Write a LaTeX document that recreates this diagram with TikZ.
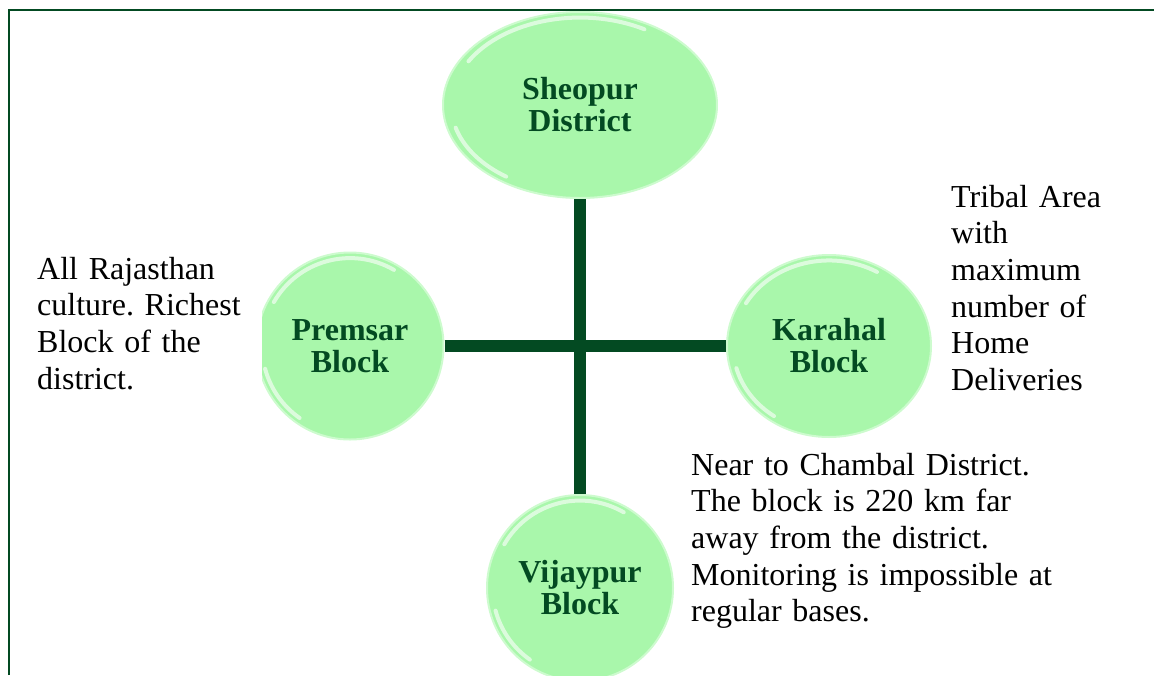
\documentclass[tikz,border=0pt]{standalone}
\usepackage{fontspec}
\setmainfont{Liberation Serif}
\usetikzlibrary{shapes.geometric,calc}
\definecolor{bubblegreen}{HTML}{A9F7AB}
\definecolor{rimgreen}{HTML}{CDFBCE}
\definecolor{darkgreen}{HTML}{034A22}
\frenchspacing

\begin{document}
\begin{tikzpicture}[x=1pt,y=-1pt,
    bubble/.style={ellipse,fill=bubblegreen,draw=rimgreen,line width=2pt,inner sep=0pt,
      align=center,text=darkgreen,font=\fontsize{32}{32}\selectfont\bfseries,
      path picture={
        \draw[white,line width=4pt,opacity=.6,line cap=round]
          let \p1=(path picture bounding box.north east),\p2=(path picture bounding box.center),
              \n1={0.94*(\x1-\x2)},\n2={0.94*(\y1-\y2)} in
          ($(\p2)+(150:\n1 and \n2)$) arc[start angle=150,end angle=60,x radius=\n1,y radius=\n2]
          ($(\p2)+(195:\n1 and \n2)$) arc[start angle=195,end angle=235,x radius=\n1,y radius=\n2];}},
    note/.style={anchor=base west,align=left,inner sep=0pt,fill=white,
      font=\fontsize{32}{36.7}\selectfont},
    link/.style={darkgreen,line width=12pt}]

  \useasboundingbox (0,0) rectangle (1154,675);

  % the district and its three blocks
  \node[bubble,minimum width=274pt,minimum height=186pt] (sheopur) at (580,105) {Sheopur\\District};
  \node[bubble,minimum size=187pt] (premsar) at (350,346) {Premsar\\Block};
  \node[bubble,minimum width=204pt,minimum height=182pt] (karahal) at (829,346) {Karahal\\Block};
  \node[bubble,minimum size=186pt] (vijaypur) at (580,588) {Vijaypur\\Block};

  \draw[link] (sheopur) -- (vijaypur);
  \draw[link] (premsar) -- (karahal);

  % notes beside the blocks
  \node[note,text width=225pt] (premsarnote) at (37,279)
    {All Rajasthan\\culture. Richest\\Block of the\\district.};
  \node[note,text width=190pt] (karahalnote) at (951,207)
    {Tribal Area\\with\\maximum\\number of\\Home\\Deliveries};
  \node[note,text width=380pt] (vijaypurnote) at (691,475)
    {Near to Chambal District.\\The block is 220 km far\\away from the district.\\Monitoring is impossible at\\regular bases.};

  % frame
  \draw[darkgreen,line width=2.5pt] (9,675) -- (9,10) -- (1154,10);
\end{tikzpicture}
\end{document}
